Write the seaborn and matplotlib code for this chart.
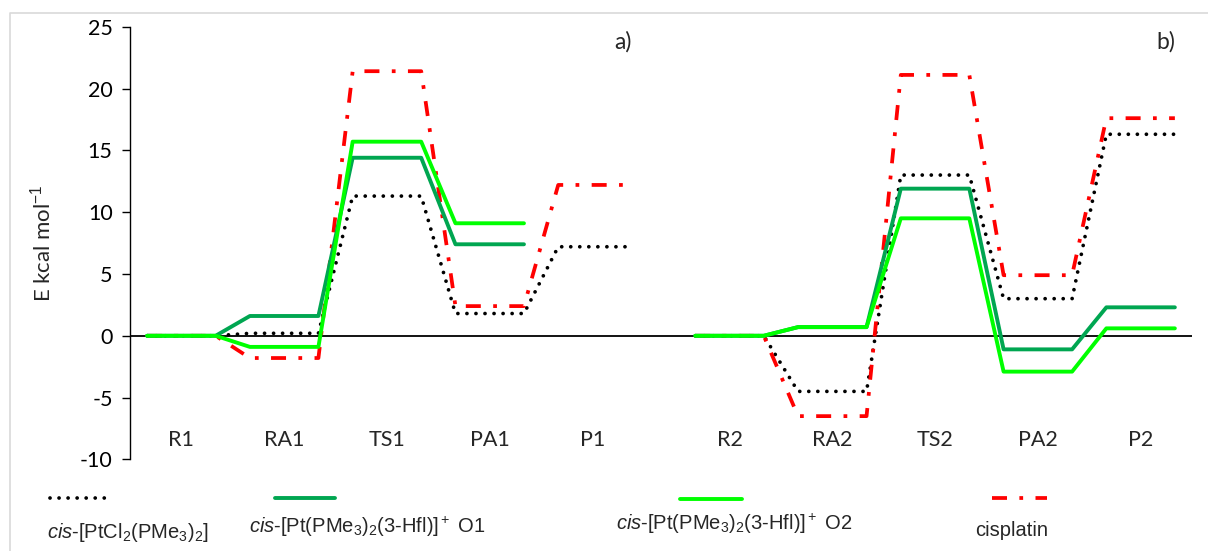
import numpy as np
import pandas as pd
import matplotlib
matplotlib.use("Agg")
import matplotlib.pyplot as plt
import seaborn as sns

# ---- data ----
states_a = ["R1", "RA1", "TS1", "PA1", "P1"]
states_b = ["R2", "RA2", "TS2", "PA2", "P2"]

ptcl2_a = [0.0, 0.2, 11.3, 1.8, 7.2]
ptcl2_b = [0.0, -4.5, 13.0, 3.0, 16.3]
o1_a = [0.0, 1.6, 14.4, 7.4, None]
o1_b = [0.0, 0.7, 11.9, -1.1, 2.3]
o2_a = [0.0, -0.9, 15.7, 9.1, None]
o2_b = [0.0, 0.7, 9.5, -2.9, 0.6]
cispt_a = [0.0, -1.8, 21.4, 2.4, 12.2]
cispt_b = [0.0, -6.5, 21.1, 4.9, 17.6]

series_names = ["ptcl2", "cisplatin", "o1", "o2"]
series_a = {"ptcl2": ptcl2_a, "o1": o1_a, "o2": o2_a, "cisplatin": cispt_a}
series_b = {"ptcl2": ptcl2_b, "o1": o1_b, "o2": o2_b, "cisplatin": cispt_b}

y_ticks = [-10, -5, 0, 5, 10, 15, 20, 25]

styles = {
    "ptcl2": dict(color="black", lw=2.7, linestyle=(0, (0.01, 2.4)),
                  dash_capstyle="round", solid_capstyle="round"),
    "cisplatin": dict(color="#FF0000", lw=2.7, linestyle=(0, (4, 3.3, 1, 3.3)),
                      dash_capstyle="butt"),
    "o1": dict(color="#00A651", lw=2.8, linestyle="-"),
    "o2": dict(color="#00FF00", lw=2.8, linestyle="-"),
}

W, H = 1208, 551
fig = plt.figure(figsize=(W / 100, H / 100), dpi=100)
sns.set_style("white")
plt.rcParams["font.family"] = ["Lato", "DejaVu Sans"]
plt.rcParams["mathtext.fontset"] = "custom"
plt.rcParams["mathtext.rm"] = "Liberation Sans"
plt.rcParams["mathtext.it"] = "Liberation Sans:italic"

ax = fig.add_axes([130 / W, (H - 459.4) / H, 1062 / W, 432.7 / H])


def build(vals, offset):
    xs, ys = [], []
    for k, v in enumerate(vals):
        if v is None:
            continue
        x0 = offset + 3 * k
        xs += [x0, x0 + 2]
        ys += [v, v]
    return xs, ys


for name in series_names:
    for vals, off in ((series_a[name], 0), (series_b[name], 16)):
        xs, ys = build(vals, off)
        df = pd.DataFrame({"x": xs, "y": ys})
        sns.lineplot(data=df, x="x", y="y", ax=ax, estimator=None, sort=False,
                     legend=False, **styles[name])

ax.axhline(0, color="black", lw=1.3, zorder=1)
ax.set_xlim(-0.5, 30.5)
ax.set_ylim(-10, 25)
ax.set_yticks(y_ticks)
ax.set_yticklabels([str(t) for t in y_ticks])
ax.set_xticks([])
for s in ["top", "right", "bottom"]:
    ax.spines[s].set_visible(False)
ax.spines["left"].set_color("black")
ax.spines["left"].set_linewidth(1.0)
ax.tick_params(axis="y", direction="out", length=5.5, width=1.0, pad=7,
               labelsize=15.5, colors="black", left=True)
ax.set_xlabel("")
ax.set_ylabel("E kcal mol$^{-1}$", fontsize=16)
ax.yaxis.set_label_coords(-0.071, 0.5)

for k, lab in enumerate(states_a):
    ax.text(3 * k + 1, -8.4, lab, ha="center", va="center", fontsize=15.5)
for k, lab in enumerate(states_b):
    ax.text(16 + 3 * k + 1, -8.4, lab, ha="center", va="center", fontsize=15.5)

fig.text(623 / W, 1 - 42 / H, "a)", ha="center", va="center", fontsize=16.5)
fig.text(1166 / W, 1 - 42 / H, "b)", ha="center", va="center", fontsize=16.5)

# ---- legend / frame overlay ----
lax = fig.add_axes([0, 0, 1, 1], facecolor="none")
lax.set_xlim(0, W)
lax.set_ylim(H, 0)
lax.axis("off")
lax.plot([10, 10, W], [H, 13, 13], color="#D9D9D9", lw=1.2)

legend_lines = {"ptcl2": (50, 108, 498), "o1": (275, 335, 498),
                "o2": (680, 742, 499), "cisplatin": (992, 1047, 498)}
for name, (x0, x1, y) in legend_lines.items():
    lax.plot([x0, x1], [y, y], **styles[name])

legend_texts = [
    (128, 532, r"$\it{cis}$-[PtCl$_2$(PMe$_3$)$_2$]"),
    (367, 527, r"$\it{cis}$-[Pt(PMe$_3$)$_2$(3-Hfl)]$^+$ O1"),
    (734, 524, r"$\it{cis}$-[Pt(PMe$_3$)$_2$(3-Hfl)]$^+$ O2"),
    (1012, 531, "cisplatin"),
]
for x, y, t in legend_texts:
    lax.text(x, y, t, ha="center", va="center", fontsize=14.5,
             family="Liberation Sans")

fig.savefig("out.png", dpi=100, facecolor="white")
